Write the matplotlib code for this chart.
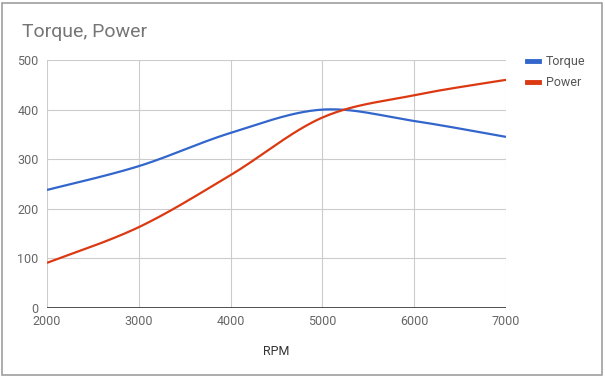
import numpy as np
import matplotlib
matplotlib.use("Agg")
import matplotlib.pyplot as plt
from matplotlib.patches import Rectangle
from matplotlib.lines import Line2D

rpm = [2000, 3000, 4000, 5000, 6000, 7000]
torque = [238, 286, 353, 400, 377, 345]
power = [91, 163, 268, 384, 429, 460]
x_ticks = [2000, 3000, 4000, 5000, 6000, 7000]
y_ticks = [0, 100, 200, 300, 400, 500]

def smooth(xs, ys, n=40):
    xs = np.asarray(xs, float); ys = np.asarray(ys, float)
    m = len(xs)
    tx = np.zeros(m); ty = np.zeros(m)
    for i in range(m):
        a = max(i - 1, 0); b = min(i + 1, m - 1)
        tx[i] = (xs[b] - xs[a]) / 2.0
        ty[i] = (ys[b] - ys[a]) / 2.0
    ox, oy = [], []
    for i in range(m - 1):
        t = np.linspace(0, 1, n, endpoint=(i == m - 2))
        h00 = 2*t**3 - 3*t**2 + 1
        h10 = t**3 - 2*t**2 + t
        h01 = -2*t**3 + 3*t**2
        h11 = t**3 - t**2
        ox.append(h00*xs[i] + h10*tx[i] + h01*xs[i+1] + h11*tx[i+1])
        oy.append(h00*ys[i] + h10*ty[i] + h01*ys[i+1] + h11*ty[i+1])
    return np.concatenate(ox), np.concatenate(oy)

plt.rcParams['font.family'] = ['Roboto', 'DejaVu Sans']

fig = plt.figure(figsize=(6.05, 3.78), dpi=100)
ax = fig.add_axes([47/605, 70/378, (506-47)/605, (308-60)/378])

blue = '#3366cc'
red = '#dc3912'
tx_, ty_ = smooth(rpm, torque)
px_, py_ = smooth(rpm, power)
ax.plot(tx_, ty_, color=blue, lw=1.6, solid_capstyle='butt', zorder=3)
ax.plot(px_, py_, color=red, lw=1.6, solid_capstyle='butt', zorder=3)

ax.set_xlim(2000, 7000)
ax.set_ylim(0, 500)
ax.set_xticks(x_ticks)
ax.set_yticks(y_ticks)
ax.grid(True, color='#cccccc', lw=0.8, zorder=0)
ax.axhline(0, color='#333333', lw=1.2, zorder=2)
for s in ['top', 'right', 'bottom', 'left']:
    ax.spines[s].set_visible(False)
ax.tick_params(length=0, labelsize=9, labelcolor='#666666')
ax.tick_params(axis='x', pad=5)
ax.tick_params(axis='y', pad=6)
ax.set_xlabel('RPM', fontsize=9, color='#333333', labelpad=12)

fig.text(22/605, 1 - 32/378, 'Torque, Power', fontsize=14, color='#757575',
         ha='left', va='center')

# legend
for i, (lab, col) in enumerate([('Torque', blue), ('Power', red)]):
    yy = 1 - (61 + 21*i)/378
    fig.add_artist(Line2D([527/605, 539/605], [yy, yy], color=col, lw=3.5,
                          transform=fig.transFigure))
    fig.text(546/605, yy, lab, fontsize=9, color='#555555', ha='left', va='center')

# outer frame
fig.add_artist(Rectangle((2/605, 1 - 375/378), 600/605, 372/378, fill=False,
                         edgecolor='#9e9e9e', lw=1.2, transform=fig.transFigure))

fig.savefig('out.png', dpi=100)
